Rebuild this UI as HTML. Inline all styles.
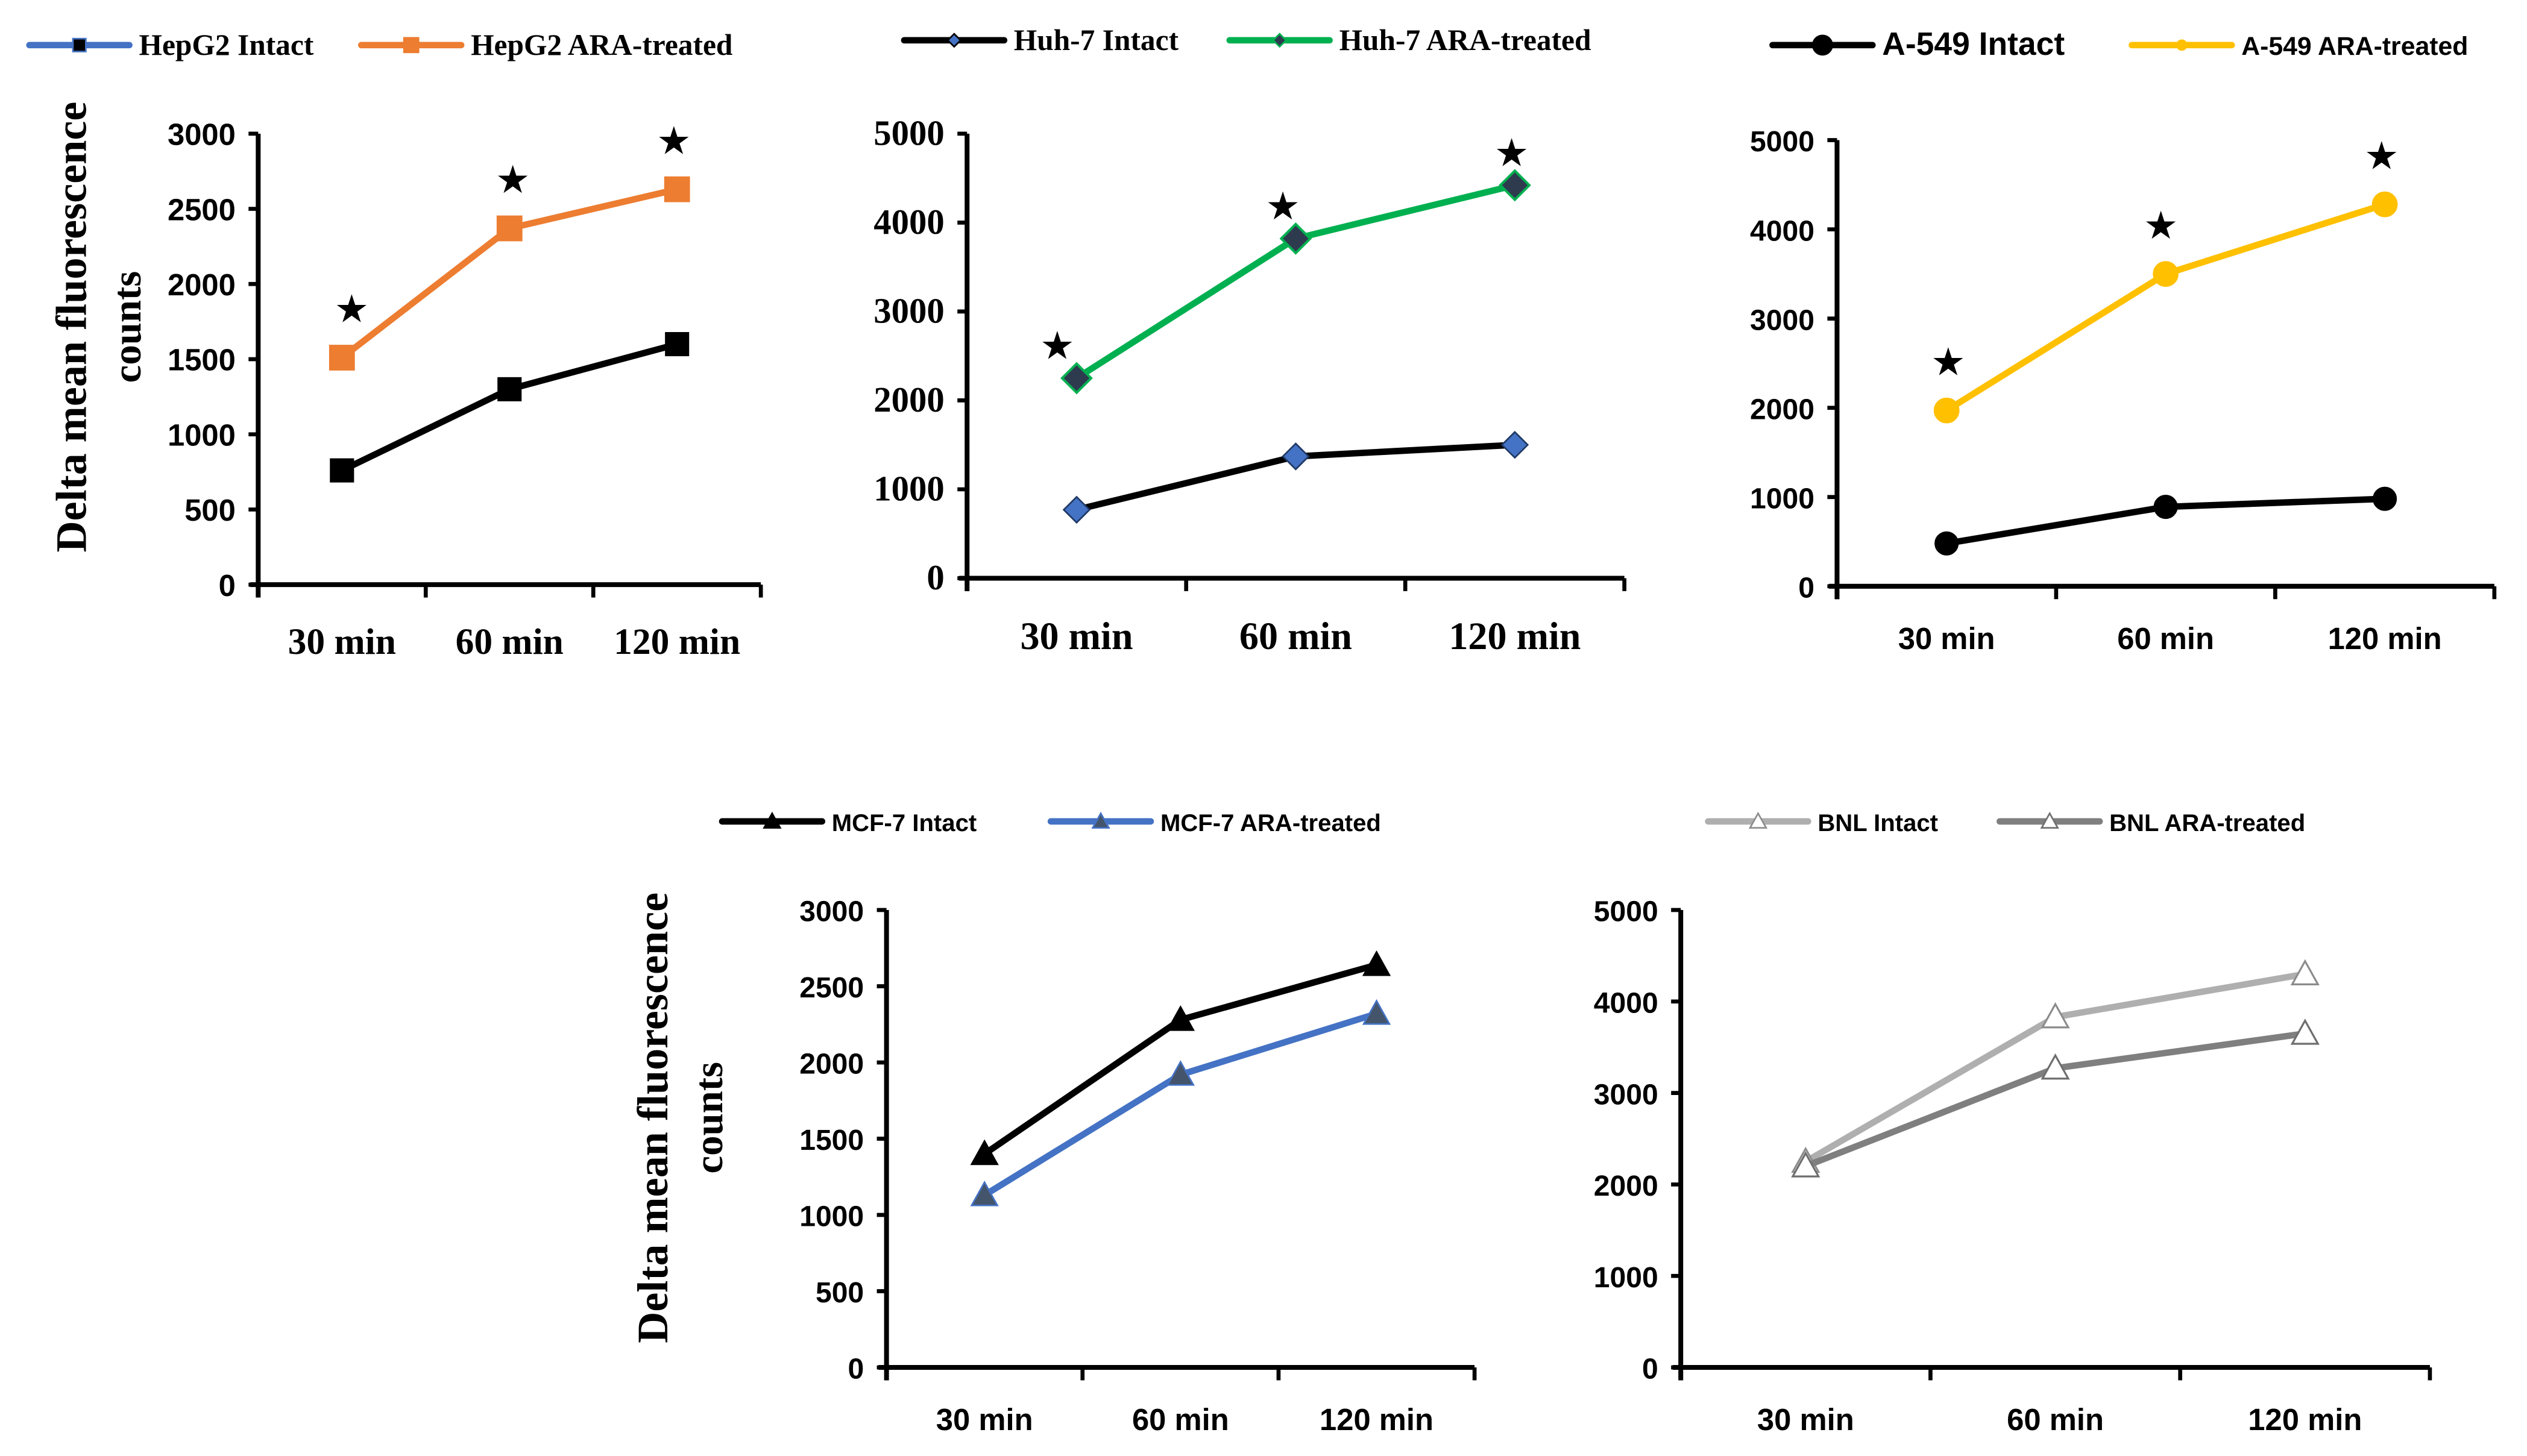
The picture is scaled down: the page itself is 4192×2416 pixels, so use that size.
<!DOCTYPE html>
<html><head><meta charset="utf-8"><style>
html,body{margin:0;padding:0;background:#fff;}
svg{display:block;}
</style></head>
<body>
<svg id="fig" xmlns="http://www.w3.org/2000/svg" width="4192" height="2416" viewBox="0 0 1568 904">
<rect width="1568" height="904" fill="#fff"/>
</svg>
<script>
const categories = ["30 min", "60 min", "120 min"];
const hepg2Intact = [760, 1300, 1600];
const hepg2Ara = [1510, 2370, 2630];
const huh7Intact = [770, 1370, 1500];
const huh7Ara = [2250, 3820, 4420];
const a549Intact = [480, 890, 980];
const a549Ara = [1970, 3500, 4280];
const mcf7Intact = [1400, 2280, 2640];
const mcf7Ara = [1130, 1920, 2320];
const bnlIntact = [2250, 3830, 4300];
const bnlAra = [2200, 3270, 3650];
const ticks3000 = [0, 500, 1000, 1500, 2000, 2500, 3000];
const ticks5000 = [0, 1000, 2000, 3000, 4000, 5000];

const NS = "http://www.w3.org/2000/svg";
const svg = document.getElementById("fig");
function el(tag, attrs, parent, text) {
  const e = document.createElementNS(NS, tag);
  for (const k in attrs) e.setAttribute(k, attrs[k]);
  if (text !== undefined) e.textContent = text;
  (parent || svg).appendChild(e);
  return e;
}
const SERIF = "'Liberation Serif', serif";
const SANS = "'Liberation Sans', sans-serif";

function marker(g, shape, x, y, s, fill, stroke, sw) {
  let m;
  if (shape === "square") m = el("rect", {x: x - s, y: y - s, width: 2 * s, height: 2 * s, fill: fill, stroke: stroke, "stroke-width": sw}, g);
  else if (shape === "diamond") m = el("polygon", {points: `${x},${y - s} ${x + s},${y} ${x},${y + s} ${x - s},${y}`, fill: fill, stroke: stroke, "stroke-width": sw}, g);
  else if (shape === "circle") m = el("circle", {cx: x, cy: y, r: s, fill: fill, stroke: stroke, "stroke-width": sw}, g);
  else m = el("polygon", {points: `${x},${y - s} ${x + s},${y + s * 0.8} ${x - s},${y + s * 0.8}`, fill: fill, stroke: stroke, "stroke-width": sw}, g);
  return m;
}

function panel(cfg) {
  const g = el("g", {}, svg);
  
  
  const maxV = cfg.ticks[cfg.ticks.length - 1];
  const ys = v => cfg.y0 - (v / maxV) * (cfg.y0 - cfg.yTop);
  const band = (cfg.x1 - cfg.x0) / categories.length;
  const xs = i => cfg.x0 + band * (i + 0.5);
  const ya = el("line", {x1: cfg.x0, y1: cfg.y0 + 8, x2: cfg.x0, y2: cfg.yTop, stroke: "#000", "stroke-width": 3}, g);
  
  
  const xa = el("line", {x1: cfg.x0 - 5, y1: cfg.y0, x2: cfg.x1, y2: cfg.y0, stroke: "#000", "stroke-width": 3}, g);
  
  
  cfg.ticks.forEach(t => {
    el("line", {x1: cfg.x0 - 6, y1: ys(t), x2: cfg.x0, y2: ys(t), stroke: "#000", "stroke-width": 2.5}, g);
    const tl = el("text", {x: cfg.x0 - 14, y: ys(t) + 7, "text-anchor": "end", "font-family": cfg.tickFont, "font-weight": "bold", "font-size": cfg.tickSize}, g, String(t));
    
    
  });
  for (let i = 0; i <= categories.length; i++) {
    const x = cfg.x0 + band * i;
    el("line", {x1: x, y1: cfg.y0, x2: x, y2: cfg.y0 + 8, stroke: "#000", "stroke-width": 2.5}, g);
  }
  categories.forEach((c, i) => {
    const cl = el("text", {x: xs(i), y: cfg.xLabelY, "text-anchor": "middle", "font-family": cfg.xFont, "font-weight": "bold", "font-size": cfg.xSize}, g, c);
    
    
  });
  cfg.series.forEach(s => {
    const pts = s.values.map((v, i) => `${xs(i)},${ys(v)}`).join(" ");
    const pl = el("polyline", {points: pts, fill: "none", stroke: s.line, "stroke-width": 4, "stroke-linejoin": "round"}, g);
    
    
    s.values.forEach((v, i) => {
      const m = marker(g, s.shape, xs(i), ys(v), s.size, s.fill, s.stroke, s.sw);
      
      
    });
    if (s.stars) {
      s.values.forEach((v, i) => {
        const st = el("text", {x: xs(i) + s.starDx[i], y: ys(v) - s.starDy, "text-anchor": "middle", "font-family": "'DejaVu Sans', sans-serif", "font-size": 24}, g, "★");
        
        
      });
    }
  });
  cfg.legend.forEach(l => {
    const lg = el("g", {}, g);
    
    
    el("line", {x1: l.x, y1: l.y, x2: l.x + 62, y2: l.y, stroke: l.line, "stroke-width": 4, "stroke-linecap": "round"}, lg);
    marker(lg, l.shape, l.x + 31, l.y, l.size, l.fill, l.stroke, l.sw);
    el("text", {x: l.x + 68, y: l.y + 6, "font-family": l.font, "font-weight": "bold", "font-size": l.fs}, lg, l.text);
  });
  if (cfg.title) {
    const t1 = el("text", {transform: `translate(${cfg.title.x},${cfg.title.cy}) rotate(-90)`, "text-anchor": "middle", "font-family": SERIF, "font-weight": "bold", "font-size": 27}, g, "Delta mean fluorescence");
    
    
    const t2 = el("text", {transform: `translate(${cfg.title.x + 34},${cfg.title.cy}) rotate(-90)`, "text-anchor": "middle", "font-family": SERIF, "font-weight": "bold", "font-size": 25}, g, "counts");
    
    
  }
}

const blue = "#4472C4";
panel({name: "hepg2-chart", x0: 160, x1: 472, y0: 363, yTop: 83, ticks: ticks3000, tickFont: SANS, tickSize: 19,
  xFont: SERIF, xSize: 23, xLabelY: 406, title: {x: 53, cy: 203},
  series: [
    {key: "hepg2-intact", values: hepg2Intact, line: "#000", shape: "square", size: 7, fill: "#000", stroke: "#000", sw: 1},
    {key: "hepg2-ara", values: hepg2Ara, line: "#ED7D31", shape: "square", size: 7.5, fill: "#ED7D31", stroke: "#ED7D31", sw: 1, stars: true, starDx: [6, 2, -2], starDy: 22}
  ],
  legend: [
    {x: 18, y: 28, line: blue, shape: "square", size: 4, fill: "#000", stroke: blue, sw: 1, text: "HepG2 Intact", font: SERIF, fs: 18.5},
    {x: 224, y: 28, line: "#ED7D31", shape: "square", size: 4.5, fill: "#ED7D31", stroke: "#ED7D31", sw: 1, text: "HepG2 ARA-treated", font: SERIF, fs: 18.5}
  ]});

panel({name: "huh7-chart", x0: 600, x1: 1008, y0: 359, yTop: 83, ticks: ticks5000, tickFont: SERIF, tickSize: 22,
  xFont: SERIF, xSize: 24, xLabelY: 403,
  series: [
    {key: "huh7-intact", values: huh7Intact, line: "#000", shape: "diamond", size: 8, fill: blue, stroke: "#1F3864", sw: 1},
    {key: "huh7-ara", values: huh7Ara, line: "#00B050", shape: "diamond", size: 9, fill: "#2E3B4E", stroke: "#00B050", sw: 1.5, stars: true, starDx: [-12, -8, -2], starDy: 12}
  ],
  legend: [
    {x: 561, y: 25, line: "#000", shape: "diamond", size: 4, fill: blue, stroke: "#000", sw: 1, text: "Huh-7 Intact", font: SERIF, fs: 18.5},
    {x: 763, y: 25, line: "#00B050", shape: "diamond", size: 4, fill: "#2E3B4E", stroke: "#00B050", sw: 1, text: "Huh-7 ARA-treated", font: SERIF, fs: 18.5}
  ]});

panel({name: "a549-chart", x0: 1140, x1: 1548, y0: 364, yTop: 87, ticks: ticks5000, tickFont: SANS, tickSize: 18,
  xFont: SANS, xSize: 19, xLabelY: 403,
  series: [
    {key: "a549-intact", values: a549Intact, line: "#000", shape: "circle", size: 7, fill: "#000", stroke: "#000", sw: 1},
    {key: "a549-ara", values: a549Ara, line: "#FFC000", shape: "circle", size: 7.5, fill: "#FFC000", stroke: "#FFC000", sw: 1, stars: true, starDx: [1, -3, -2], starDy: 22}
  ],
  legend: [
    {x: 1100, y: 28, line: "#000", shape: "circle", size: 6, fill: "#000", stroke: "#000", sw: 1, text: "A-549 Intact", font: SANS, fs: 20},
    {x: 1323, y: 28, line: "#FFC000", shape: "circle", size: 3, fill: "#FFC000", stroke: "#FFC000", sw: 1, text: "A-549 ARA-treated", font: SANS, fs: 16}
  ]});

panel({name: "mcf7-chart", x0: 550, x1: 915, y0: 849, yTop: 565, ticks: ticks3000, tickFont: SANS, tickSize: 18,
  xFont: SANS, xSize: 19, xLabelY: 888, title: {x: 414, cy: 694},
  series: [
    {key: "mcf7-intact", values: mcf7Intact, line: "#000", shape: "triangle", size: 8, fill: "#000", stroke: "#000", sw: 1},
    {key: "mcf7-ara", values: mcf7Ara, line: blue, shape: "triangle", size: 8, fill: "#44546A", stroke: blue, sw: 1}
  ],
  legend: [
    {x: 448, y: 510, line: "#000", shape: "triangle", size: 5, fill: "#000", stroke: "#000", sw: 1, text: "MCF-7 Intact", font: SANS, fs: 15},
    {x: 652, y: 510, line: blue, shape: "triangle", size: 5, fill: "#44546A", stroke: blue, sw: 1, text: "MCF-7 ARA-treated", font: SANS, fs: 15}
  ]});

panel({name: "bnl-chart", x0: 1043, x1: 1508, y0: 849, yTop: 565, ticks: ticks5000, tickFont: SANS, tickSize: 18,
  xFont: SANS, xSize: 19, xLabelY: 888,
  series: [
    {key: "bnl-intact", values: bnlIntact, line: "#AFAFAF", shape: "triangle", size: 8, fill: "#fff", stroke: "#8C8C8C", sw: 1.2},
    {key: "bnl-ara", values: bnlAra, line: "#7F7F7F", shape: "triangle", size: 8, fill: "#fff", stroke: "#6E6E6E", sw: 1.2}
  ],
  legend: [
    {x: 1060, y: 510, line: "#AFAFAF", shape: "triangle", size: 5, fill: "#fff", stroke: "#8C8C8C", sw: 1, text: "BNL Intact", font: SANS, fs: 15},
    {x: 1241, y: 510, line: "#7F7F7F", shape: "triangle", size: 5, fill: "#fff", stroke: "#6E6E6E", sw: 1, text: "BNL ARA-treated", font: SANS, fs: 15}
  ]});
</script>
</body></html>
